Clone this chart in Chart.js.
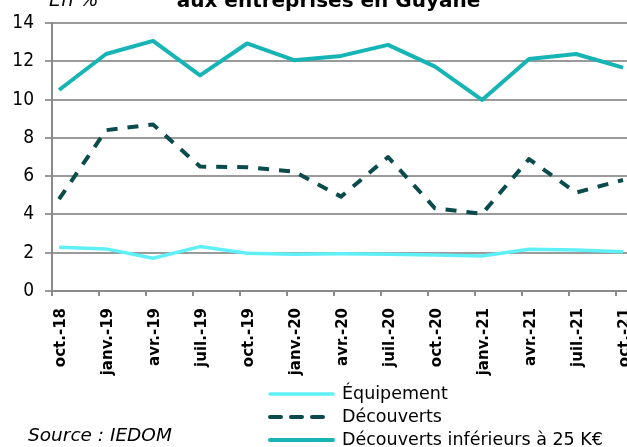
<!DOCTYPE html>
<html>
<head>
<meta charset="utf-8">
<script src="https://cdn.jsdelivr.net/npm/chart.js@4.4.1/dist/chart.umd.min.js"></script>
<style>
  html, body { margin: 0; padding: 0; background: #fff; overflow: hidden; }
  #wrap { position: relative; width: 627px; height: 447px; overflow: hidden; }
  #chart { position: absolute; left: 0; top: 0; }
  .txt { position: absolute; white-space: nowrap; color: #000;
         font-family: "DejaVu Sans", sans-serif; line-height: 1; }
  #title { left: 0; width: 657px; text-align: center; top: -10px; font-size: 20px; font-weight: bold; }
  #unit { left: 49px; top: -10.5px; font-size: 19.5px; font-style: italic; }
  #source { left: 28px; top: 426px; font-size: 18.5px; font-style: italic; }
  #legend { position: absolute; left: 268px; top: 382px; }
  .row { display: flex; align-items: center; height: 23px; }
  .row svg { margin-right: 7px; }
  .row span { font-family: "DejaVu Sans", sans-serif; font-size: 17.5px; line-height: 1; }
</style>
</head>
<body>
<div id="wrap">
  <canvas id="chart" width="627" height="447"></canvas>
  <div class="txt" id="title">aux entreprises en Guyane</div>
  <div class="txt" id="unit">En %</div>
  <div class="txt" id="source">Source : IEDOM</div>
  <div id="legend"></div>
</div>
<script>
  // ---------- data ----------
  var MONTHS = ["oct.-18", "janv.-19", "avr.-19", "juil.-19", "oct.-19", "janv.-20", "avr.-20",
                "juil.-20", "oct.-20", "janv.-21", "avr.-21", "juil.-21", "oct.-21"];
  var EQUIPEMENT = [2.28, 2.2, 1.71, 2.32, 1.97, 1.92, 1.94, 1.92, 1.88, 1.83, 2.18, 2.14, 2.05];
  var DECOUVERTS = [4.8, 8.4, 8.7, 6.5, 6.47, 6.24, 4.93, 7.0, 4.32, 4.03, 6.89, 5.14, 5.8];
  var DECOUVERTS_25K = [10.5, 12.38, 13.07, 11.26, 12.93, 12.06, 12.28, 12.86, 11.72, 9.98, 12.12, 12.38, 11.67];
  var Y_TICKS = [0, 2, 4, 6, 8, 10, 12, 14];

  var COLORS = { equip: "#5ef0f6", dec: "#0b4b4c", dec25: "#17b4b5", grid: "#9a9a9a", axis: "#8a8a8a" };
  var FONT = "'DejaVu Sans', sans-serif";
  var FONT_NARROW = "'DejaVu Sans Condensed', 'DejaVu Sans', sans-serif";

  // points sit a little right of each tick mark, as in the source chart
  var SHIFT = 0.15;

  function pts(ys) {
    return ys.map(function (v, i) { return { x: i, y: v }; });
  }

  var datasets = [
    { label: "Équipement", data: pts(EQUIPEMENT), borderColor: COLORS.equip, borderWidth: 3.5 },
    { label: "Découverts", data: pts(DECOUVERTS), borderColor: COLORS.dec, borderWidth: 4, borderDash: [11, 10] },
    { label: "Découverts inférieurs à 25 K€", data: pts(DECOUVERTS_25K), borderColor: COLORS.dec25, borderWidth: 4 }
  ];
  datasets.forEach(function (d) {
    d.pointRadius = 0; d.tension = 0; d.fill = false; d.borderJoinStyle = "round";
    d.backgroundColor = d.borderColor;
  });

  new Chart(document.getElementById("chart").getContext("2d"), {
    type: "line",
    data: { datasets: datasets },
    options: {
      responsive: false, animation: false,
      layout: { padding: { top: 23, left: 0, right: 0, bottom: 0 } },
      plugins: { legend: { display: false }, tooltip: { enabled: false }, title: { display: false } },
      scales: {
        x: {
          type: "linear", min: -SHIFT, max: 12.085,
          afterBuildTicks: function (s) { s.ticks = MONTHS.map(function (_, i) { return { value: i - SHIFT }; }); },
          afterFit: function (s) { s.height = 156; s.paddingLeft = 0; s.paddingRight = 0; },
          grid: { drawOnChartArea: false, drawTicks: true, tickLength: 5, color: COLORS.axis, lineWidth: 2 },
          border: { display: true, color: COLORS.axis, width: 2 },
          ticks: {
            autoSkip: false, minRotation: 90, maxRotation: 90, padding: 12, labelOffset: 9, color: "#000",
            font: { family: FONT, size: 15, weight: "bold" },
            callback: function (v, i) { return MONTHS[i]; }
          }
        },
        y: {
          min: 0, max: 14,
          afterBuildTicks: function (s) { s.ticks = Y_TICKS.map(function (v) { return { value: v }; }); },
          afterFit: function (s) { s.width = 52; },
          grid: { color: COLORS.grid, lineWidth: 2, tickLength: 7 },
          border: { display: true, color: COLORS.axis, width: 2 },
          ticks: { padding: 11, color: "#000", font: { family: FONT_NARROW, size: 19 } }
        }
      }
    }
  });

  // legend, stacked one entry per row
  document.getElementById("legend").innerHTML = datasets.map(function (d) {
    var dash = d.borderDash ? ' stroke-dasharray="' + d.borderDash.join(",") + '"' : "";
    return '<div class="row"><svg width="67" height="8"><line x1="2" y1="4" x2="65" y2="4" stroke="' +
      d.borderColor + '" stroke-width="' + d.borderWidth + '" stroke-linecap="round"' + dash + '/></svg>' +
      "<span>" + d.label + "</span></div>";
  }).join("");
</script>
</body>
</html>
